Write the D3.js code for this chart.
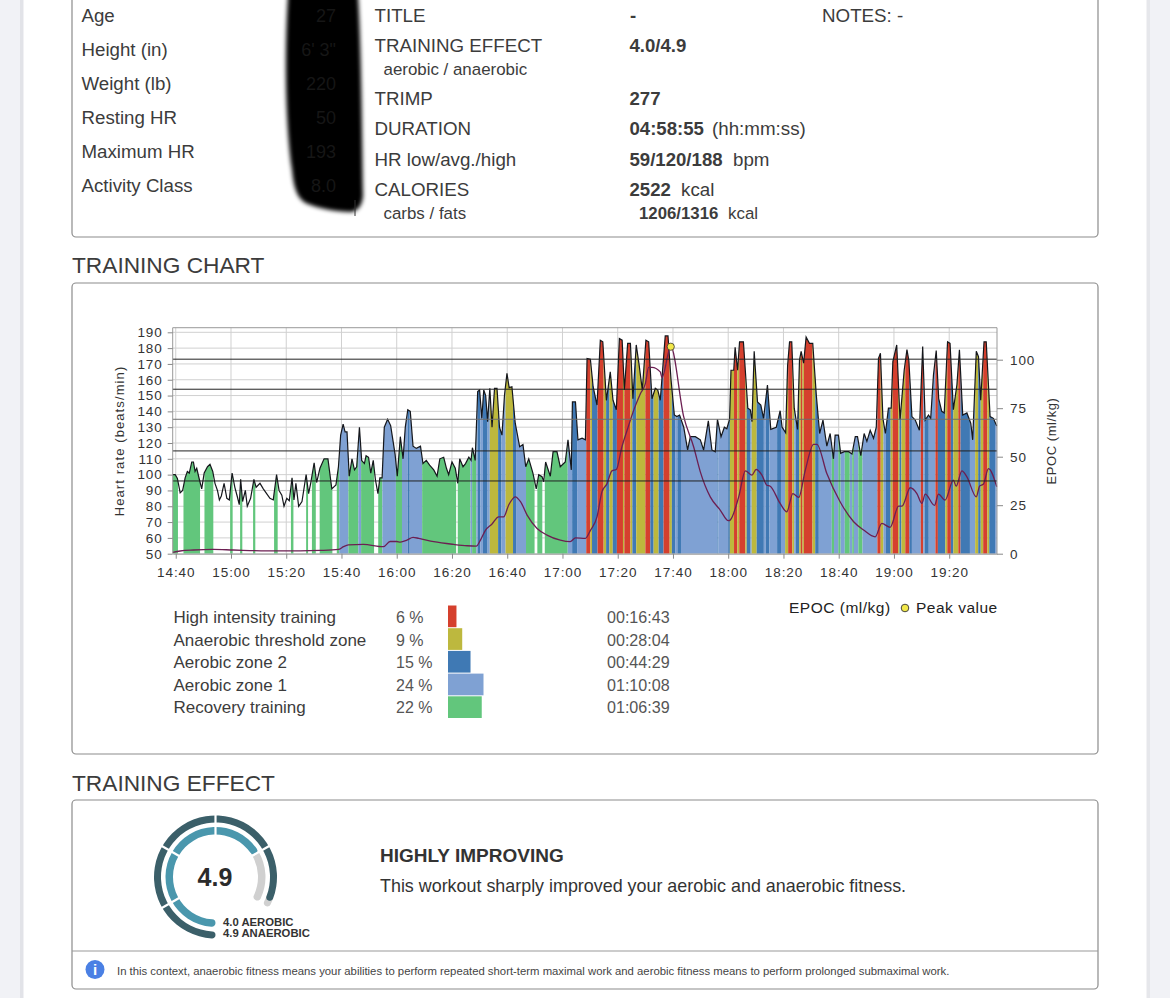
<!DOCTYPE html>
<html><head><meta charset="utf-8">
<script src="https://cdn.jsdelivr.net/npm/d3@7"></script>
<style>
html,body{margin:0;padding:0;background:#f1f2f6;overflow:hidden}
svg{display:block;font-family:"Liberation Sans",Arial,sans-serif}
</style></head><body><div id="c"></div>
<script>
// ---- data ----
const profileLabels=["Age","Height (in)","Weight (lb)","Resting HR","Maximum HR","Activity Class"];
const profileValues=["27","6' 3\"","220","50","193","8.0"];
const hrMinutes=[-1.1,-0.2,.6,1.6,2.5,3.4,4.2,4.9,5.8,6.4,7,7.6,8.6,9.4,10.3,11.5,12.4,13.4,14.2,15.1,15.8,16.5,17.5,18.5,19.4,20.4,21.4,22.3,23,23.5,24.2,25.2,25.9,27.1,28.3,29.1,30.5,31.7,32.9,34.1,35.3,36.5,37.4,38.4,39.2,40.2,41.1,42.1,42.8,43.5,44.5,45.7,47.2,48.1,48.9,50.1,51,52.2,53.7,55.1,56.5,58,58.9,59.7,60.6,61.3,62,62.8,63.8,64.7,65.5,66.5,67.3,68.3,68.9,69.8,70.6,71.5,72.3,73.2,73.9,74.7,75.5,76.7,77.8,79.4,80.2,
81.3,82.3,83.1,84,84.9,85.9,87.1,88.6,89.5,90.7,91.9,93.4,94.6,95.6,97,98,98.8,100,101.2,102.1,102.8,104,104.9,106.1,106.9,107.4,108.4,109.3,110,110.8,111.5,112.2,112.9,113.7,114.5,115.4,116.3,117.2,118.1,119,119.9,120.7,121.7,122.9,124.5,125.7,126.7,127.8,129.3,130.5,131.4,132.6,133.2,133.9,135.6,136.6,138,139.2,141,142,143.2,143.6,144.7,145.6,147.1,148.3,148.9,150.1,151.1,152.5,153.7,154.6,155.9,157.3,158.3,159.5,160.6,161.6,162.4,163.6,164.6,165.5,166.7,167.7,168.9,170.2,171.2,172.4,173.6,174.5,175.4,177.2,178.2,179.3,180.5,181.4,182.4,183.9,185.3,186.3,188.1,
189.9,191.1,192.8,194.1,195.3,196.1,197.4,198.6,199.5,200.5,201,202,202.5,203.4,204.1,205.5,207.1,208,208.6,209.4,210.6,211.8,212.8,214.2,215.4,217.4,218.8,219.5,220.8,221.5,222.2,223,223.9,225.1,225.8,226.4,227.3,228.2,229.4,230.6,231.9,233.1,234.3,235.7,236.9,238.1,238.7,239.9,240.7,242,243.6,244.8,246,246.8,248,249.2,250.2,251.4,252.6,253.6,254.4,255.1,256,256.9,258,259,259.6,261,262.2,263.7,264.7,265.4,266.5,267.7,269.2,270.4,271.3,272.5,273.3,274.3,275.3,276.2,277.3,278.2,279.4,280.3,281.5,282.8,283.7,284.9,286.4,287.8,288.5,289.8,290.6,291.4,292.6,293.4,294.8,296,297.2];
const hrBpm=[100,100,97.6,88.5,90,98,102,101,108,108,102,104,96.6,91,101,105,106.5,102,94.5,90,84,86.5,94.5,85,84,101,92,86,81,97,83,90,80,85,97,92,94.5,91,88,85,84,100,90,87,80,85,83.5,98,84,94.5,80,83,100,88,95,107.5,95,104,110,110,91,93.5,105,125,132,127,127,99,110,103,105,130,109,107,112,111,101,109,96.6,88,98,98,130,135,131,113,99,
124,110,130,141,140,118,116.6,118,107,109,106,103,99,110,111,104,100,108,104,94.5,110,105,107,111,109,117,109,152.5,153.5,135.6,153.5,150,133.5,154.6,130,154.6,154.6,130,125,150,164,155,155.6,132.5,117.6,119,105,110,101,91,100,98.7,95.5,108,99,114.5,114.5,105,108,122,103,146,146,122,123,122,173.5,173,155.6,144,185,184,147,165,147,141,186,185,153.5,183,183,148,182,170,153.5,185,184,148,154.6,153.5,147,187.7,187.7,160,137.7,136.7,137.7,130,115.6,124,124,
122,115.6,134,115.6,114.5,135,124,130,129,135,166,166,180.5,166,184,184,142,141,133.5,178,146,144,135.6,156.7,128.6,130,140.4,130,126.5,169,184,184,142,128.6,172.5,178,170.5,187,183,183,150,126,134.5,118,126,110,125,125,113.5,114.5,114.5,113,124,124,112,126,121,128,123,130,173.5,176.7,135.6,126,142,142,171.5,182,134.5,166,179,172,136.7,134.5,128,181,134.5,137.7,135.6,163,178.4,148,140,139,184,183,141,157,179,137.7,139,132.5,122,178,174.6,147,184,184,136.7,135.6,130.7];
const epocMinutes=[-1.1,1.6,6.4,13.6,20.9,32.9,45,52.2,58.9,60.7,62.5,67.9,75.2,77.6,80,81.3,83.7,85.9,88,93.4,100.6,105.5,108.8,110.3,112.1,114.5,116.9,118.7,120.5,122.9,124.8,127.2,130.8,134.4,139.2,142.8,144.7,148.3,150.1,152.5,154.3,156.1,157.9,159.5,161.5,163.4,165.8,168.2,170,171.2,172.4,175.4,176,179.2,183.9,187.5,189.9,193.5,197.1,200.1,200.7,203.8,206.2,208.6,210.1,212.2,214,215.2,218.8,221.2,223.4,225.5,227.9,230.9,232.1,235.7,240.5,245.4,249,253.2,255.6,258.6,261.7,262.9,265.9,268.3,270.1,271.3,274.7,276.1,278.5,281.5,282.5,284.6,286.4,289.8,291,292.4,294.2,297.2];
const epocValues=[.7,1.4,1.9,2.2,1.9,1.5,1.5,1.7,2.2,3.6,4.5,4.8,3.6,6.3,6.3,6,7,8.4,7.9,6.2,4.8,4.1,3.9,7,12,15.3,19,19,25,29.3,26.8,19.9,13,9.6,7,6.2,8.2,7.9,12,19,32,36,42.7,43.4,55,63.6,74,82.5,87.7,96,96,93.7,90.8,106.7,70.5,55,42.2,29.3,22.5,17,17.3,29.3,42.7,40.5,43.4,40.5,35.3,34.8,25.9,21.6,31,29,43,56.4,56.4,41.3,26.8,16.5,12.2,8.7,15.6,13.6,24.5,24.5,34,31,25.9,30.7,24.9,30.7,27.6,37.9,34.8,42.7,39.6,29.3,34.8,35.9,43.9,34.5];
const peakMinute=179.2, peakEpoc=106.7;
// zone segments: segment i runs from zoneEnds[i] to zoneEnds[i+1]
const zoneEnds=[-1.1,.8,2.8,8.8,10.4,13.6,19.7,20.6,23.3,24.1,28,28.8,35.6,36.9,41.7,42.6,47.2,47.9,49.3,50.7,52.1,56.7,58.3,59.2,62.5,66.1,67.1,71.8,73.3,74.8,79.7,81.9,84,84.7,89.2,101.5,102.1,106.7,107.3,108.8,109.3,110.3,111.2,112.9,113.7,116.7,117.9,119.4,122.1,123.2,126.8,129.9,130.9,132.7,133.6,141.9,143.5,145.3,148.6,150.1,150.7,152.7,154.9,155.8,157,158.2,159.7,161.9,162.4,164.6,165.3,166.7,170,171.8,173,174.8,176.6,178.8,179.6,180.8,181.6,182.9,196.1,196.4,200,200.6,202.1,203.3,204,206.2,206.7,208.1,208.5,210.3,212.9,213.6,214.9,217.7,219.1,220.6,221.7,223.2,223.9,224.5,225.7,226.3,226.9,227.4,230.5,231.5,232.8,237.5,238.3,239.9,240.7,242.2,244,244.9,245.5,247.1,248.6,254,255.2,256.2,257.1,258.8,259.5,261.5,262,262.7,264.1,265.6,266.5,269.7,270.6,271.1,272.6,275,275.9,278.6,279.3,280.6,281.5,283.3,284.1,287.5,289.4,290.5,291.4,292.3,293.8,294.5,296.6,297.3];
const zoneIds="G N G N G N G N G N G N G N G N G N G N G N G A1 G A1 G N G A1 G A1 A2 A1 G N G A1 G A1 A2 A1 A2 A1 Y A2 A1 Y A2 A1 G N G N G A1 A2 A1 R Y A2 R Y A2 Y A2 R Y R Y A2 Y R A2 Y A2 R Y A2 A1 A2 A1 A2 A1 A2 Y R Y R Y A2 A1 Y A2 A1 A2 A1 A2 A1 Y R Y A1 A2 Y R Y R Y A2 A1 G A1 G A1 G A1 G A1 G A1 R Y A1 A2 Y R Y A2 Y R A2 A1 R A1 A2 A1 R A2 Y R A2 Y R A2 A1 Y A2 Y R Y A2 A1".split(" ");
const zoneColors={R:"#d5402d",Y:"#bdb83e",A2:"#3f79b4",A1:"#7fa1d3",G:"#62c67c"};
const hrThresholds=[173,154,135,115,96];
const yTicks=d3.range(50,191,10);
const epocTicks=[0,25,50,75,100];
const xTickMinutes=[0,20,40,60,80,100,120,140,160,180,200,220,240,260,280];
const xTickLabels=["14:40","15:00","15:20","15:40","16:00","16:20","16:40","17:00","17:20","17:40","18:00","18:20","18:40","19:00","19:20"];
const zoneNames=["High intensity training","Anaerobic threshold zone","Aerobic zone 2","Aerobic zone 1","Recovery training"];
const zonePercents=["6 %","9 %","15 %","24 %","22 %"];
const zoneTimes=["00:16:43","00:28:04","00:44:29","01:10:08","01:06:39"];
const zoneMinutes=[16.72,28.07,44.48,70.13,66.65];
const zoneKeys=["R","Y","A2","A1","G"];
const teAerobic=4.0, teAnaerobic=4.9, teMax=5;

// ---- page ----
const svg=d3.select("#c").append("svg").attr("width",1170).attr("height",998);
const defs=svg.append("defs");
defs.append("filter").attr("id","blur").attr("x","-20%").attr("y","-20%").attr("width","140%").attr("height","140%")
  .append("feGaussianBlur").attr("stdDeviation",2);
defs.append("filter").attr("id","soft").attr("x","-5%").attr("y","-5%").attr("width","110%").attr("height","110%")
  .append("feGaussianBlur").attr("stdDeviation",0.45);

svg.append("rect").attr("x",20).attr("y",-2).attr("width",4).attr("height",1002).attr("fill","#e2e3e8");
svg.append("rect").attr("x",1146).attr("y",-2).attr("width",4).attr("height",1002).attr("fill","#e6e7eb");
svg.append("rect").attr("x",23.5).attr("y",-2).attr("width",1123).attr("height",1002).attr("fill","#fff");

function box(y,h){svg.append("rect").attr("x",72).attr("y",y).attr("width",1026).attr("height",h).attr("rx",4)
  .attr("fill","#fff").attr("stroke","#8c8c8c").attr("stroke-width",1.2);}
box(-20,257); box(283,471); box(800,189);
svg.append("line").attr("x1",72).attr("x2",1098).attr("y1",951).attr("y2",951).attr("stroke","#9a9a9a").attr("stroke-width",1.2);

function T(x,y,s,size,o={}){return svg.append("text").attr("x",x).attr("y",y).text(s).attr("font-size",size)
  .attr("fill",o.fill||"#3c3c3c").attr("font-weight",o.bold?"bold":null).attr("text-anchor",o.anchor||null)
  .attr("letter-spacing",o.ls||null);}

// header left
profileLabels.forEach((s,i)=>T(81.5,22+i*34,s,18.7));
// scribble hiding the values, values themselves barely visible beneath
svg.append("path").attr("filter","url(#blur)").attr("fill","#060606")
 .attr("d","M288,-5 L358,-5 C361,40 362,120 363,196 C362,206 358,210 352,212 C335,212 318,208 308,204 C298,200 294,190 292,170 C286,130 284,60 288,-5 Z");
svg.append("line").attr("x1",355).attr("x2",355).attr("y1",200).attr("y2",216).attr("stroke","#333").attr("stroke-width",1);
profileValues.forEach((s,i)=>T(336,22+i*34,s,18,{fill:"#161616",anchor:"end"}));

// header right
const HS=18.75, HB=18.6, SS=16.9;
T(374.5,22,"TITLE",HS); T(630,22,"-",HB,{bold:true}); T(822,22,"NOTES: -",HS);
T(374.5,52,"TRAINING EFFECT",HS); T(629.5,52,"4.0/4.9",HB,{bold:true});
T(383.5,75,"aerobic / anaerobic",SS);
T(374.5,105,"TRIMP",HS); T(629.5,105,"277",HB,{bold:true});
T(374.5,135,"DURATION",HS); T(629.5,135,"04:58:55",HB,{bold:true}); T(712,135,"(hh:mm:ss)",HS);
T(374.5,166,"HR low/avg./high",HS); T(629.5,166,"59/120/188",HB,{bold:true}); T(733,166,"bpm",HS);
T(374.5,196,"CALORIES",HS); T(629.5,196,"2522",HB,{bold:true}); T(681,196,"kcal",HS);
T(383.5,219,"carbs / fats",SS); T(639,219,"1206/1316",16.8,{bold:true}); T(728,219,"kcal",SS);

T(72,273,"TRAINING CHART",22.7);
T(72,791,"TRAINING EFFECT",22.7);

// ---- chart ----
const x=d3.scaleLinear().domain([-1.1,297.3]).range([172.7,997]);
const y=d3.scaleLinear().domain([50,190]).range([553.7,332.3]);
const yE=d3.scaleLinear().domain([0,100]).range([553.7,359.7]);
const plotTop=y(192.9), plotBottom=y(50);
const hrPts=hrMinutes.map((m,i)=>[m,hrBpm[i]]);
const epPts=epocMinutes.map((m,i)=>[m,epocValues[i]]);
const g=svg.append("g");

// grid
g.append("g").selectAll("line").data(yTicks).join("line").attr("x1",x.range()[0]).attr("x2",x.range()[1])
 .attr("y1",d=>y(d)).attr("y2",d=>y(d)).attr("stroke","#d0d0d0").attr("stroke-width",1);
g.append("g").selectAll("line").data(xTickMinutes).join("line").attr("x1",d=>x(d)).attr("x2",d=>x(d))
 .attr("y1",plotTop).attr("y2",plotBottom).attr("stroke","#d0d0d0").attr("stroke-width",1);

// zone fills clipped under the HR curve
const area=d3.area().x(d=>x(d[0])).y0(plotBottom).y1(d=>y(d[1]));
defs.append("clipPath").attr("id","hrclip").append("path").attr("d",area(hrPts));
const segs=zoneIds.map((z,i)=>({z,a:zoneEnds[i],b:zoneEnds[i+1]})).filter(d=>d.z!=="N");
g.append("g").attr("clip-path","url(#hrclip)").attr("filter","url(#soft)")
 .selectAll("rect").data(segs).join("rect")
 .attr("x",d=>x(d.a)).attr("width",d=>x(d.b)-x(d.a)).attr("y",plotTop).attr("height",plotBottom-plotTop)
 .attr("fill",d=>zoneColors[d.z]);

// HR & EPOC lines
const line=d3.line().x(d=>x(d[0])).y(d=>y(d[1]));
g.append("path").attr("d",line(hrPts)).attr("fill","none").attr("stroke","#15171c").attr("stroke-width",1.2);
const lineE=d3.line().curve(d3.curveMonotoneX).x(d=>x(d[0])).y(d=>yE(d[1]));
g.append("path").attr("d",lineE(epPts)).attr("fill","none").attr("stroke","#6c1f52").attr("stroke-width",1.3);

// threshold lines
g.append("g").selectAll("line").data(hrThresholds).join("line").attr("x1",x.range()[0]).attr("x2",x.range()[1])
 .attr("y1",d=>y(d)).attr("y2",d=>y(d)).attr("stroke",d=>d===135?"#6e6e6e":"#222").attr("stroke-width",1);

// frame
g.append("path").attr("d",`M${x.range()[0]},${plotBottom}V${plotTop}H${x.range()[1]}V${plotBottom}`)
 .attr("fill","none").attr("stroke","#999");

// axes
function style(a,ls){a.select(".domain").attr("stroke","#999");a.selectAll(".tick line").attr("stroke","#888");
 a.selectAll("text").attr("font-size",13.5).attr("letter-spacing",ls).attr("fill","#333").attr("font-family","Liberation Sans");}
const ax=g.append("g").attr("transform",`translate(0,${plotBottom})`)
 .call(d3.axisBottom(x).tickValues(xTickMinutes).tickFormat((d,i)=>xTickLabels[i]).tickSize(5).tickPadding(9).tickSizeOuter(0));
style(ax,"0.9px");
const ay=g.append("g").attr("transform",`translate(${x.range()[0]},0)`)
 .call(d3.axisLeft(y).tickValues(yTicks).tickSize(5).tickPadding(5).tickSizeOuter(0));
style(ay,"0.9px"); ay.select(".domain").remove();
const ar=g.append("g").attr("transform",`translate(${x.range()[1]},0)`)
 .call(d3.axisRight(yE).tickValues(epocTicks).tickSize(6).tickPadding(7).tickSizeOuter(0));
style(ar,"0.9px"); ar.select(".domain").remove();

svg.append("text").attr("transform","translate(124,441) rotate(-90)").attr("text-anchor","middle")
 .attr("font-size",13).attr("letter-spacing","1.1px").attr("fill","#333").text("Heart rate (beats/min)");
svg.append("text").attr("transform","translate(1056,441) rotate(-90)").attr("text-anchor","middle")
 .attr("font-size",13).attr("letter-spacing","0.55px").attr("fill","#333").text("EPOC (ml/kg)");

// peak marker
g.append("circle").attr("cx",x(peakMinute)).attr("cy",yE(peakEpoc)).attr("r",3.6).attr("fill","#f2e84a").attr("stroke","#333").attr("stroke-width",.8);

// zone legend
const w=d3.scaleLinear().domain([0,70.13]).range([0,35.5]);
const rowY=d3.scaleBand().domain(zoneNames).range([605,718.5]).paddingInner(0);
zoneNames.forEach((n,i)=>{
  const base=623+i*22.6;
  T(173.5,base,n,17);
  T(396,base,zonePercents[i],16,{fill:"#555"});
  T(607,base,zoneTimes[i],16.1,{fill:"#555"});
  svg.append("rect").attr("x",448).attr("y",rowY(n)+.5).attr("width",w(zoneMinutes[i])).attr("height",rowY.bandwidth()-1)
    .attr("fill",zoneColors[zoneKeys[i]]);
});
T(789,613,"EPOC (ml/kg)",15.5,{fill:"#222",ls:"0.5px"});
svg.append("circle").attr("cx",905).attr("cy",608).attr("r",3.8).attr("fill","#f2e84a").attr("stroke","#333").attr("stroke-width",.9);
T(916,613,"Peak value",15.5,{fill:"#222",ls:"0.5px"});

// ---- gauge ----
const cx=215.5,cy=877;
const ang=d3.scaleLinear().domain([0,teMax]).range([Math.PI,Math.PI*2+Math.PI*2/3]); // 0 at bottom, clockwise
const G=svg.append("g").attr("transform",`translate(${cx},${cy})`);
const arc=(r0,r1,a,b)=>d3.arc().innerRadius(r0).outerRadius(r1).startAngle(a).endAngle(b).cornerRadius((r1-r0)/2)();
G.append("path").attr("d",arc(42.5,50,ang(teAerobic)-.1,ang(teMax))).attr("fill","#d0d0d0");
G.append("path").attr("d",arc(54.5,61.5,ang(teAnaerobic)-.1,ang(teMax))).attr("fill","#d0d0d0");
G.append("path").attr("d",arc(42.5,50,ang(0),ang(teAerobic))).attr("fill","#4a97ad");
G.append("path").attr("d",arc(54.5,61.5,ang(0),ang(teAnaerobic))).attr("fill","#3b5f69");
// white separators at each whole unit
G.selectAll("line").data([1,2,3,4]).join("line")
 .attr("x1",d=>Math.sin(ang(d))*40).attr("y1",d=>-Math.cos(ang(d))*40)
 .attr("x2",d=>Math.sin(ang(d))*64).attr("y2",d=>-Math.cos(ang(d))*64)
 .attr("stroke","#fff").attr("stroke-width",2.2);
T(cx-.5,886,"4.9",25,{bold:true,anchor:"middle",fill:"#2b2b2b"});
T(223,926,"4.0 AEROBIC",11.3,{bold:true,fill:"#333"});
T(223,937,"4.9 ANAEROBIC",11.3,{bold:true,fill:"#333"});

T(380,862,"HIGHLY IMPROVING",19,{bold:true,fill:"#333"});
T(380,892,"This workout sharply improved your aerobic and anaerobic fitness.",17.9,{fill:"#333"});

// info
svg.append("circle").attr("cx",95).attr("cy",969.5).attr("r",9.5).attr("fill","#4a80e4");
T(95,975,"i",15,{bold:true,anchor:"middle",fill:"#fff"});
T(117,975,"In this context, anaerobic fitness means your abilities to perform repeated short-term maximal work and aerobic fitness means to perform prolonged submaximal work.",11.33,{fill:"#444"});
</script></body></html>
